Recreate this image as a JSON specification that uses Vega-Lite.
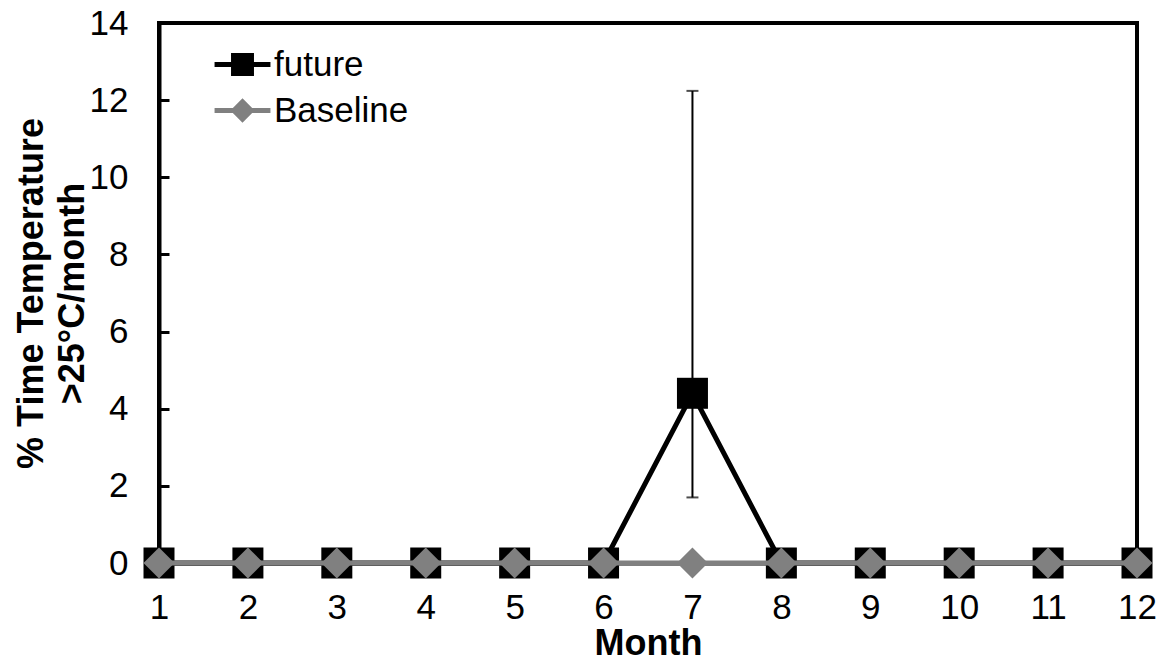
{
  "$schema": "https://vega.github.io/schema/vega-lite/v6.json",
  "width": 978,
  "height": 540,
  "autosize": {"type": "none"},
  "padding": {"left": 159, "top": 23, "right": 35, "bottom": 96},
  "background": "white",
  "config": {
    "view": {"stroke": "black", "strokeWidth": 4},
    "font": "Liberation Sans",
    "axis": {
      "labelFont": "Liberation Sans",
      "labelFontSize": 35,
      "labelColor": "black",
      "labelFlush": false,
      "labelOverlap": false,
      "titleFont": "Liberation Sans",
      "titleFontSize": 36,
      "titleFontWeight": "bold",
      "titleColor": "black",
      "domainColor": "black",
      "domainWidth": 4,
      "grid": false
    }
  },
  "datasets": {
    "series": [
      {"month": 1, "series": "future", "value": 0},
      {"month": 2, "series": "future", "value": 0},
      {"month": 3, "series": "future", "value": 0},
      {"month": 4, "series": "future", "value": 0},
      {"month": 5, "series": "future", "value": 0},
      {"month": 6, "series": "future", "value": 0},
      {"month": 7, "series": "future", "value": 4.4},
      {"month": 8, "series": "future", "value": 0},
      {"month": 9, "series": "future", "value": 0},
      {"month": 10, "series": "future", "value": 0},
      {"month": 11, "series": "future", "value": 0},
      {"month": 12, "series": "future", "value": 0},
      {"month": 1, "series": "Baseline", "value": 0},
      {"month": 2, "series": "Baseline", "value": 0},
      {"month": 3, "series": "Baseline", "value": 0},
      {"month": 4, "series": "Baseline", "value": 0},
      {"month": 5, "series": "Baseline", "value": 0},
      {"month": 6, "series": "Baseline", "value": 0},
      {"month": 7, "series": "Baseline", "value": 0},
      {"month": 8, "series": "Baseline", "value": 0},
      {"month": 9, "series": "Baseline", "value": 0},
      {"month": 10, "series": "Baseline", "value": 0},
      {"month": 11, "series": "Baseline", "value": 0},
      {"month": 12, "series": "Baseline", "value": 0}
    ],
    "errors": [
      {"month": 7, "series": "future", "lo": 1.7, "hi": 12.24}
    ]
  },
  "data": {"name": "series"},
  "encoding": {
    "x": {
      "field": "month",
      "type": "quantitative",
      "scale": {"domain": [1, 12], "nice": false, "zero": false},
      "axis": {
        "values": [1, 2, 3, 4, 5, 6, 7, 8, 9, 10, 11, 12],
        "title": "Month",
        "ticks": false,
        "labelPadding": 27,
        "titleX": 489,
        "titleY": 91,
        "titleBaseline": "alphabetic",
        "titleAlign": "center"
      }
    },
    "y": {
      "field": "value",
      "type": "quantitative",
      "scale": {"domain": [0, 14], "nice": false},
      "axis": {
        "values": [0, 2, 4, 6, 8, 10, 12, 14],
        "title": ["% Time Temperature", ">25°C/month"],
        "tickSize": -10,
        "tickWidth": 3,
        "tickColor": "black",
        "labelPadding": 41,
        "titleX": -117,
        "titleY": 270,
        "titleAngle": -90,
        "titleBaseline": "alphabetic",
        "titleAlign": "center",
        "titleLineHeight": 41
      }
    },
    "color": {
      "field": "series",
      "type": "nominal",
      "scale": {"domain": ["future", "Baseline"], "range": ["black", "#808080"]},
      "legend": {
        "title": null,
        "orient": "none",
        "legendX": 66,
        "legendY": 24,
        "padding": 0,
        "symbolSize": 529,
        "symbolStrokeWidth": 5,
        "labelFont": "Liberation Sans",
        "labelFontSize": 35,
        "labelColor": "black",
        "labelOffset": 14,
        "rowPadding": 7,
        "encode": {
          "symbols": {
            "update": {
              "shape": {"signal": "datum.value === 'future' ? 'M-2.43,0H2.43M-0.78,-0.78H0.78V0.78H-0.78Z' : 'M-2.43,0H2.43M-0.75,0L0,-0.75L0.75,0L0,0.75Z'"},
              "fill": {"signal": "datum.value === 'future' ? 'black' : '#808080'"},
              "stroke": {"signal": "datum.value === 'future' ? 'black' : '#808080'"},
              "strokeWidth": {"value": 5},
              "size": {"value": 529},
              "opacity": {"value": 1},
              "fillOpacity": {"value": 1},
              "strokeOpacity": {"value": 1}
            }
          }
        }
      }
    }
  },
  "layer": [
    {
      "transform": [{"filter": "datum.series === 'future'"}],
      "mark": {"type": "line", "strokeWidth": 5}
    },
    {
      "transform": [{"filter": "datum.series === 'future'"}],
      "mark": {"type": "point", "shape": "square", "filled": true, "size": 961, "opacity": 1}
    },
    {
      "transform": [{"filter": "datum.series === 'Baseline'"}],
      "mark": {"type": "line", "strokeWidth": 5}
    },
    {
      "transform": [{"filter": "datum.series === 'Baseline'"}],
      "mark": {"type": "point", "shape": "diamond", "filled": true, "size": 961, "opacity": 1}
    },
    {
      "data": {"name": "errors"},
      "mark": {"type": "errorbar", "ticks": {"size": 12, "thickness": 2, "color": "black"}, "rule": {"strokeWidth": 2, "color": "black"}},
      "encoding": {
        "x": {"field": "month", "type": "quantitative"},
        "y": {"field": "lo", "type": "quantitative"},
        "y2": {"field": "hi"},
        "color": {"value": "black"}
      }
    }
  ]
}
